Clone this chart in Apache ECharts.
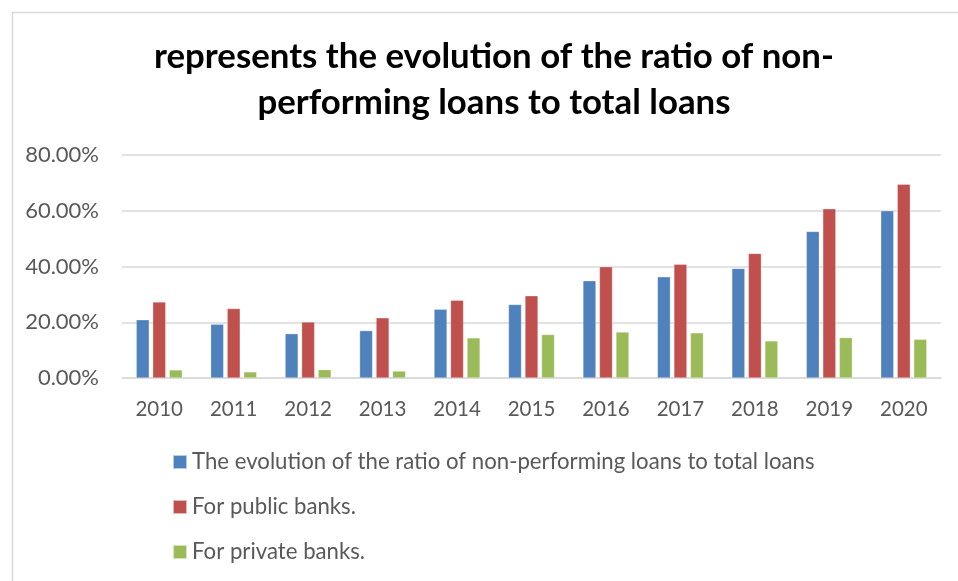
<!DOCTYPE html>
<html>
<head>
<meta charset="utf-8">
<script src="https://cdn.jsdelivr.net/npm/echarts@6/dist/echarts.min.js"></script>
<style>
html,body{margin:0;padding:0;background:#fff;}
#c{width:958px;height:581px;}
</style>
</head>
<body>
<div id="c"></div>
<script>
const categories = ['2010','2011','2012','2013','2014','2015','2016','2017','2018','2019','2020'];
const seriesNames = ['The evolution of the ratio of non-performing loans to total loans','For public banks.','For private banks.'];
const overallRatio = [20.9, 19.3, 15.9, 17.0, 24.7, 26.4, 34.9, 36.3, 39.3, 52.6, 60.0];
const publicBanks  = [27.3, 24.9, 20.1, 21.6, 27.9, 29.5, 39.9, 40.8, 44.7, 60.7, 69.5];
const privateBanks = [2.9, 2.2, 3.0, 2.5, 14.4, 15.6, 16.5, 16.2, 13.3, 14.5, 13.9];
const yTicks = [0, 20, 40, 60, 80];
const colors = ['#4F81BD', '#C0504D', '#9BBB59'];

const chart = echarts.init(document.getElementById('c'), null, {renderer: 'canvas'});
const FONT = 'Lato';
const mk = (name, data, i) => ({
  name: name, type: 'bar', data: data,
  barWidth: 13, barGap: '27%',
  itemStyle: {color: colors[i], borderColor: 'rgba(255,255,255,0.6)', borderWidth: 0.5},
  emphasis: {disabled: true}
});
chart.setOption({
  animation: false,
  color: colors,
  graphic: [{
    type: 'rect', left: 10, top: 10, z: -1,
    shape: {width: 1000, height: 620},
    style: {fill: 'none', stroke: '#d9d9d9', lineWidth: 1.5}
  }],
  title: {
    text: 'represents the evolution of the ratio of non-\nperforming loans to total loans',
    left: 489, top: 29, textAlign: 'center',
    textStyle: {fontFamily: FONT, fontWeight: 'bold', fontSize: 34.8, lineHeight: 46, color: '#000'}
  },
  grid: {left: 122, right: 17, top: 155, bottom: 203, containLabel: false},
  xAxis: {
    type: 'category', data: categories,
    axisLine: {lineStyle: {color: '#d9d9d9', width: 1.5}},
    axisTick: {show: false},
    axisLabel: {color: '#595959', fontFamily: FONT, fontSize: 20.5, margin: 21}
  },
  yAxis: {
    type: 'value', min: yTicks[0], max: yTicks[yTicks.length-1], interval: 20,
    axisLine: {show: false}, axisTick: {show: false},
    splitLine: {lineStyle: {color: '#d9d9d9', width: 1.5}},
    axisLabel: {color: '#595959', fontFamily: FONT, fontSize: 22, margin: 23,
      formatter: v => v.toFixed(2) + '%'}
  },
  legend: {
    orient: 'vertical', left: 172, top: 451, padding: 0,
    itemWidth: 14, itemHeight: 14, itemGap: 23,
    icon: 'rect',
    textStyle: {color: '#595959', fontFamily: FONT, fontSize: 22.2, lineHeight: 22},
    data: seriesNames
  },
  series: [mk(seriesNames[0], overallRatio, 0), mk(seriesNames[1], publicBanks, 1), mk(seriesNames[2], privateBanks, 2)]
});
</script>
</body>
</html>
